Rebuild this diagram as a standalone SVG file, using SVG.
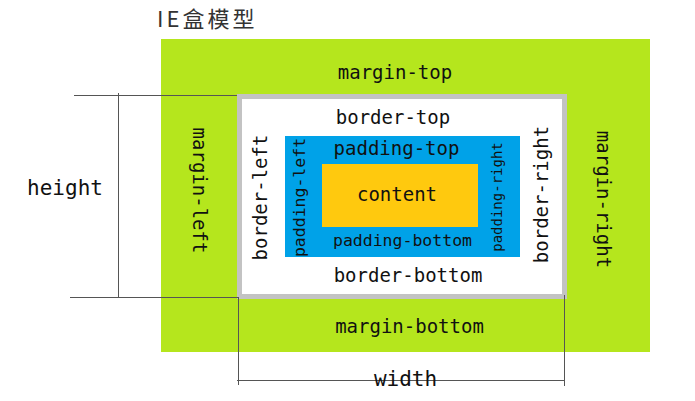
<svg xmlns="http://www.w3.org/2000/svg" width="695" height="401" viewBox="0 0 695 401">
<style>
.lbl{font-family:"DejaVu Sans Mono","Liberation Mono",monospace;fill:#111;text-anchor:middle}
.f19{font-size:19px}
.f16{font-size:16.5px}
.f14{font-size:14px}
.f21{font-size:21px}
.dim{stroke:#555;stroke-width:1;fill:none}
</style>
<rect width="695" height="401" fill="#fff"/>
<g id="title"><text x="157" y="26.5" font-family="'Noto Sans CJK SC',sans-serif" font-size="22" letter-spacing="3" fill="#333">IE盒模型</text></g>
<g id="margin">
<rect x="161" y="39" width="489" height="313" fill="#b5e61d"/>
<text class="lbl f19" x="395" y="79">margin-top</text>
<text class="lbl f19" x="409.5" y="333">margin-bottom</text>
<text class="lbl f19" transform="translate(193,190.5) rotate(90)">margin-left</text>
<text class="lbl f19" transform="translate(597,199.5) rotate(90)">margin-right</text>
</g>
<g id="border">
<rect x="239.5" y="96.5" width="325" height="200" fill="#fff" stroke="#c3c3c3" stroke-width="5"/>
<text class="lbl f19" x="393" y="124">border-top</text>
<text class="lbl f19" x="408" y="282">border-bottom</text>
<text class="lbl f19" transform="translate(267,197.5) rotate(-90)">border-left</text>
<text class="lbl f19" transform="translate(548,194.5) rotate(-90)">border-right</text>
</g>
<g id="padding">
<rect x="285" y="136" width="235" height="121" fill="#00a2e8"/>
<text class="lbl f19" x="396.5" y="155">padding-top</text>
<text class="lbl f16" x="402.5" y="246">padding-bottom</text>
<text class="lbl f16" transform="translate(305,197.5) rotate(-90)">padding-left</text>
<text class="lbl f14" transform="translate(502,197) rotate(-90)">padding-right</text>
</g>
<g id="content">
<rect x="322" y="164" width="156" height="63" fill="#ffc90e"/>
<text class="lbl f19" x="397" y="201">content</text>
</g>
<g id="connectors">
<path class="dim" d="M74 95.5H237M70 297.5H238M118.5 93V297.5M238.5 297V385M564.5 295V386M237 380.5H564"/>
</g>
<g id="dimensions">
<text class="lbl f21" x="65" y="195">height</text>
<text class="lbl f21" x="405.5" y="386">width</text>
</g>
</svg>
